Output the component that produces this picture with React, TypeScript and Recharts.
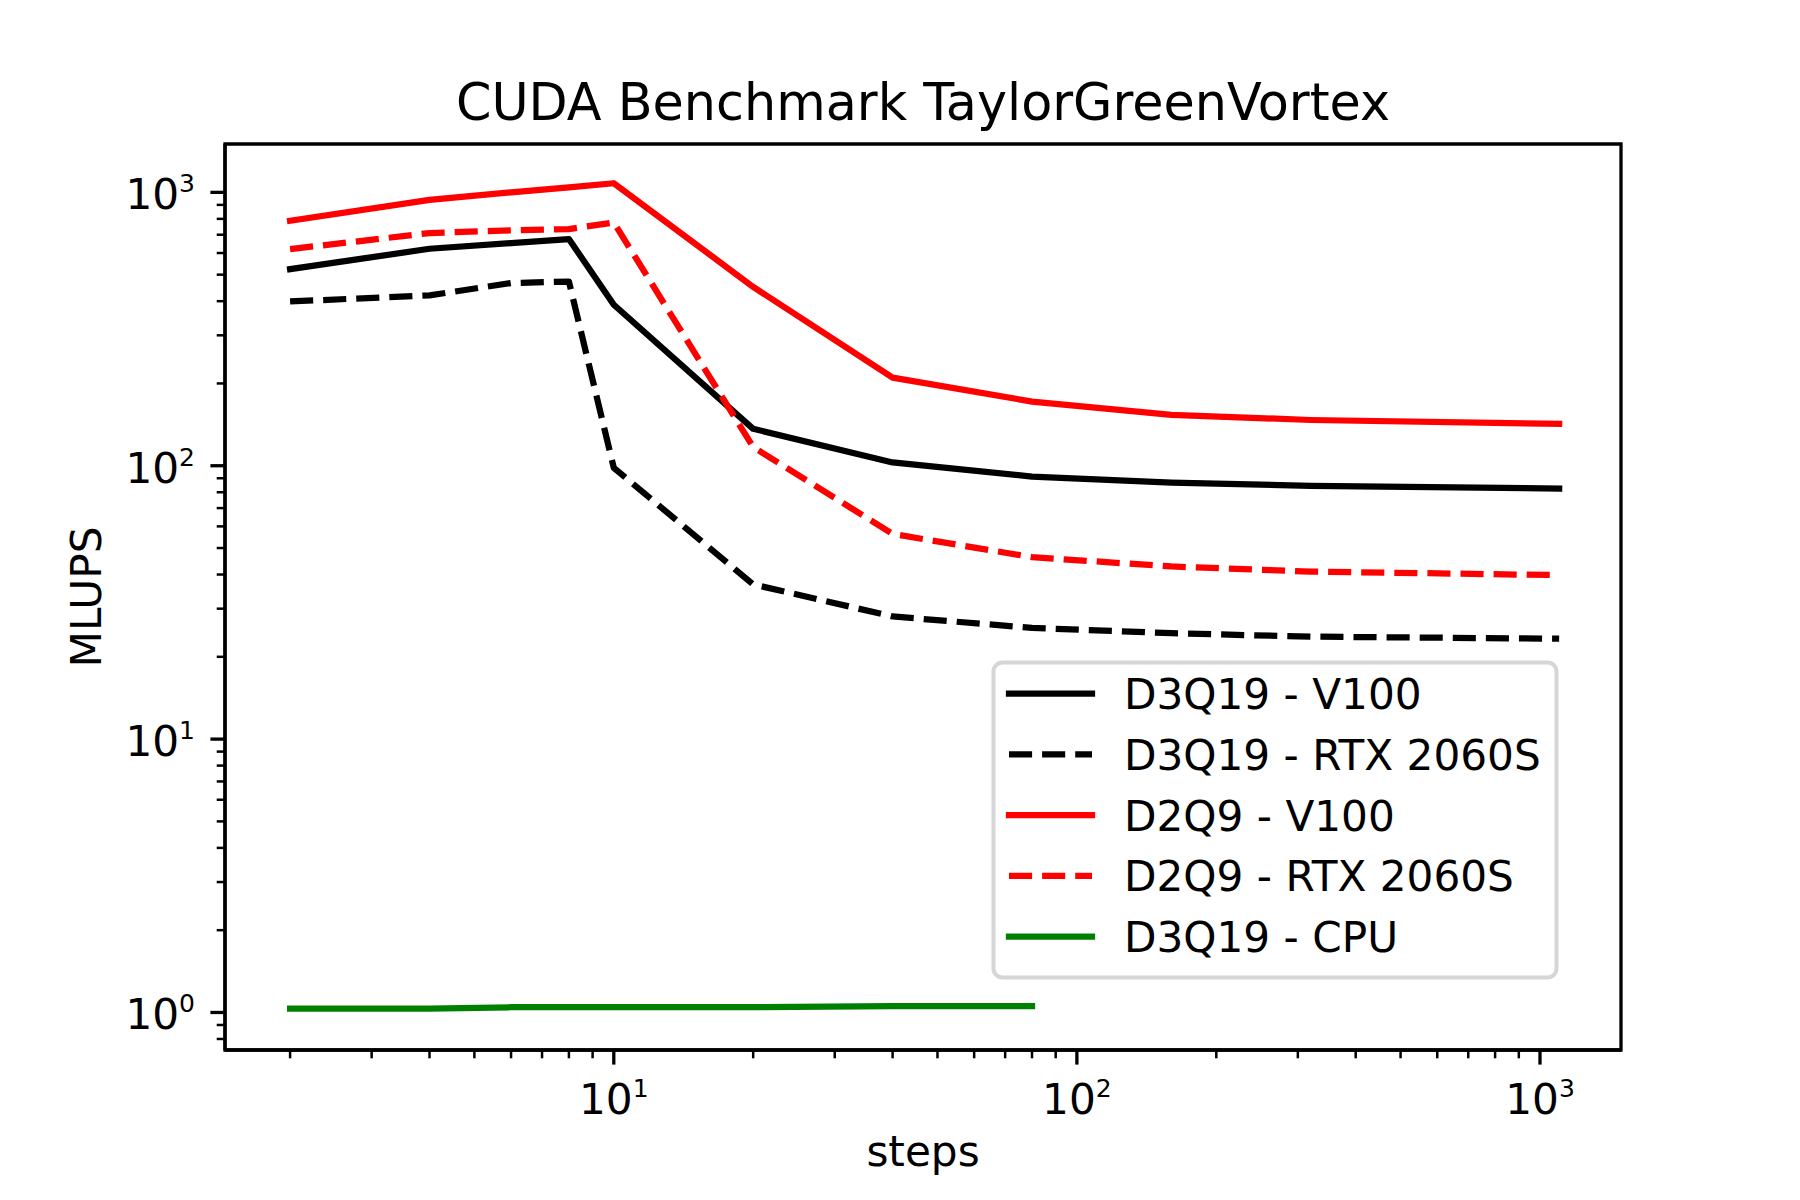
import { LineChart, Line, XAxis, YAxis, Legend, Label, ReferenceArea } from "recharts";

// steps on the x axis (log scale)
const steps = [2, 4, 6, 8, 10, 20, 40, 80, 160, 320, 1100];

// MLUPS per configuration
const d3q19V100 = [524, 622, 652, 675, 388, 136.5, 102.8, 91.3, 86.8, 84.4, 82.5];
const d3q19Rtx = [399, 420, 466, 472, 98.3, 36.8, 28.1, 25.5, 24.4, 23.7, 23.3];
const d2q9V100 = [787, 939, 1000, 1044, 1080, 451, 210, 171.7, 153.6, 147, 142.3];
const d2q9Rtx = [620, 710, 726, 734, 776, 117, 56.3, 46.3, 42.8, 41.0, 39.8];
// CPU run only went up to 80 steps
const d3q19Cpu = [1.032, 1.032, 1.045, 1.045, 1.045, 1.045, 1.056, 1.056];

const xMajorTicks = [10, 100, 1000];
const xMinorTicks = [2, 3, 4, 5, 6, 7, 8, 9, 20, 30, 40, 50, 60, 70, 80, 90, 200, 300, 400, 500, 600, 700, 800, 900];
const yMajorTicks = [1, 10, 100, 1000];
const yMinorTicks = [0.8, 0.9, 2, 3, 4, 5, 6, 7, 8, 9, 20, 30, 40, 50, 60, 70, 80, 90, 200, 300, 400, 500, 600, 700, 800, 900];

const X_DOMAIN = [1.447, 1496];
const Y_DOMAIN = [0.729, 1503];

const series = [
  { key: "d3q19V100", name: "D3Q19 - V100", color: "#000000", dashed: false },
  { key: "d3q19Rtx", name: "D3Q19 - RTX 2060S", color: "#000000", dashed: true },
  { key: "d2q9V100", name: "D2Q9 - V100", color: "#ff0000", dashed: false },
  { key: "d2q9Rtx", name: "D2Q9 - RTX 2060S", color: "#ff0000", dashed: true },
  { key: "d3q19Cpu", name: "D3Q19 - CPU", color: "#008000", dashed: false },
];

const data = steps.map((s, i) => ({
  steps: s,
  d3q19V100: d3q19V100[i],
  d3q19Rtx: d3q19Rtx[i],
  d2q9V100: d2q9V100[i],
  d2q9Rtx: d2q9Rtx[i],
  d3q19Cpu: d3q19Cpu[i],
}));

const FONT = "DejaVu Sans";
const FS = 42.2;
const DASH = "23.1 10";
const LW = 6.25;

const PLOT_LEFT = 225;
const PLOT_TOP = 144;
const PLOT_RIGHT = 1621;
const PLOT_BOTTOM = 1050;

const exponent = (v: number) => String(Math.round(Math.log10(v)));

function XTick(props: any) {
  const { x, y, payload } = props;
  const major = xMajorTicks.includes(payload.value);
  return (
    <g>
      <line
        x1={x}
        x2={x}
        y1={y}
        y2={y + (major ? 14.6 : 8.3)}
        stroke="#000"
        strokeWidth={major ? 3.3 : 2.5}
      />
      {major && (
        <text x={x} y={y + 64} textAnchor="middle" fontFamily={FONT} fontSize={FS} fill="#000">
          <tspan>10</tspan>
          <tspan dy={-17} fontSize={25}>
            {exponent(payload.value)}
          </tspan>
        </text>
      )}
    </g>
  );
}

function YTick(props: any) {
  const { x, y, payload } = props;
  const major = yMajorTicks.includes(payload.value);
  return (
    <g>
      <line
        x1={x - (major ? 14.6 : 8.3)}
        x2={x}
        y1={y}
        y2={y}
        stroke="#000"
        strokeWidth={major ? 3.3 : 2.5}
      />
      {major && (
        <text x={x - 30} y={y + 17} textAnchor="end" fontFamily={FONT} fontSize={FS} fill="#000">
          <tspan>10</tspan>
          <tspan dy={-17} fontSize={25}>
            {exponent(payload.value)}
          </tspan>
        </text>
      )}
    </g>
  );
}

function LegendBox() {
  return (
    <svg width={570} height={321} style={{ display: "block" }}>
      <rect
        x={3.5}
        y={3.5}
        width={563}
        height={315}
        rx={9}
        fill="#ffffff"
        fillOpacity={0.8}
        stroke="#d6d6d6"
        strokeWidth={4}
      />
      {series.map((s, i) => {
        const cy = 34.5 + i * 60.8;
        return (
          <g key={s.key}>
            <line
              x1={19}
              x2={102}
              y1={cy}
              y2={cy}
              stroke={s.color}
              strokeWidth={LW}
              strokeDasharray={s.dashed ? DASH : undefined}
              strokeLinecap={s.dashed ? "butt" : "square"}
            />
            <text x={134} y={cy + 15.5} fontFamily={FONT} fontSize={FS} fill="#000">
              {s.name}
            </text>
          </g>
        );
      })}
    </svg>
  );
}

// title + x label, drawn with the bottom axis
function XAxisTexts() {
  const cx = (PLOT_LEFT + PLOT_RIGHT) / 2;
  return (
    <g>
      <text x={cx} y={120} textAnchor="middle" fontFamily={FONT} fontSize={50.8} fill="#000">
        CUDA Benchmark TaylorGreenVortex
      </text>
      <text x={cx} y={1166} textAnchor="middle" fontFamily={FONT} fontSize={FS} fill="#000">
        steps
      </text>
    </g>
  );
}

export default function App() {
  const cy = (PLOT_TOP + PLOT_BOTTOM) / 2;
  return (
    <>
      <style>{`body { margin: 0; background: #fff; }`}</style>
      <LineChart
        width={1800}
        height={1200}
        data={data}
        margin={{ top: PLOT_TOP, right: 1800 - PLOT_RIGHT, bottom: 1200 - PLOT_BOTTOM - 60, left: PLOT_LEFT - 100 }}
      >
        <XAxis
          dataKey="steps"
          type="number"
          scale="log"
          domain={X_DOMAIN}
          allowDataOverflow
          ticks={[...xMinorTicks, ...xMajorTicks].sort((a, b) => a - b)}
          interval={0}
          tickSize={0}
          tickMargin={0}
          tickLine={false}
          tick={XTick}
          height={60}
          axisLine={{ stroke: "#000", strokeWidth: 3.3 }}
        >
          <Label content={() => <XAxisTexts />} />
        </XAxis>
        <YAxis
          type="number"
          scale="log"
          domain={Y_DOMAIN}
          allowDataOverflow
          ticks={[...yMinorTicks, ...yMajorTicks].sort((a, b) => a - b)}
          interval={0}
          tickSize={0}
          tickMargin={0}
          tickLine={false}
          tick={YTick}
          width={100}
          axisLine={{ stroke: "#000", strokeWidth: 3.3 }}
        >
          <Label
            content={() => (
              <text
                x={101}
                y={cy}
                transform={`rotate(-90, 101, ${cy})`}
                textAnchor="middle"
                fontFamily={FONT}
                fontSize={FS}
                fill="#000"
              >
                MLUPS
              </text>
            )}
          />
        </YAxis>
        {/* axes frame (all four spines) */}
        <ReferenceArea
          x1={X_DOMAIN[0]}
          x2={X_DOMAIN[1]}
          y1={Y_DOMAIN[0]}
          y2={Y_DOMAIN[1]}
          fill="none"
          fillOpacity={0}
          stroke="#000"
          strokeWidth={3.3}
          strokeOpacity={1}
          ifOverflow="visible"
        />
        {series.map((s) => (
          <Line
            key={s.key}
            type="linear"
            dataKey={s.key}
            name={s.name}
            stroke={s.color}
            strokeWidth={LW}
            strokeDasharray={s.dashed ? DASH : undefined}
            strokeLinecap={s.dashed ? "butt" : "square"}
            strokeLinejoin="round"
            dot={false}
            activeDot={false}
            isAnimationActive={false}
          />
        ))}
        <Legend
          verticalAlign="middle"
          align="center"
          layout="horizontal"
          wrapperStyle={{ left: 990, top: 659, width: 570, height: 321 }}
          content={() => <LegendBox />}
        />
      </LineChart>
    </>
  );
}
